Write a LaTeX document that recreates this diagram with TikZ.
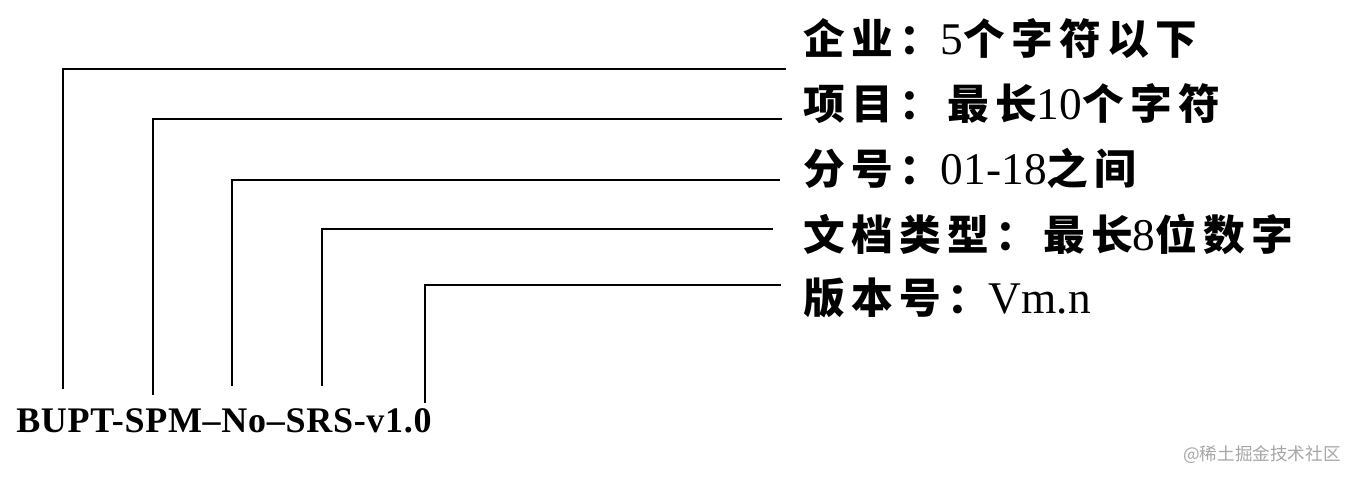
\documentclass[tikz,border=0pt]{standalone}
\usepackage{fontspec}
\setmainfont{Liberation Serif}
\newfontfamily\cjkfont[Scale=0.92,LetterSpace=15]{Noto Sans CJK SC}
\newfontfamily\codefont[LetterSpace=2]{Liberation Serif}
\newfontfamily\wmfont{Noto Sans CJK SC}
\newcommand\C[1]{{\cjkfont\bfseries #1}}
\begin{document}
\begin{tikzpicture}[x=0.75pt,y=-0.75pt,
  conn/.style={line width=1.4pt, line cap=rect},
  lab/.style={anchor=base west, inner sep=0pt, font=\fontsize{34}{40}\selectfont},
  codestyle/.style={anchor=base west, inner sep=0pt, font=\codefont\bfseries\fontsize{27}{32}\selectfont},
  wmstyle/.style={anchor=west, inner sep=0pt, text=black!35, font=\wmfont\fontsize{13.2}{15}\selectfont}]
\useasboundingbox (0,0) rectangle (1359,481);
\node[codestyle] (code) at (16,432) {BUPT-SPM–No–SRS-v1.0};
\node[lab] (l1) at (803,55) {\C{企业：}5\C{个字符以下}};
\node[lab] (l2) at (803,120) {\C{项目：最长}10\C{个字符}};
\node[lab] (l3) at (803,185) {\C{分号：}01-18\C{之间}};
\node[lab] (l4) at (803,250) {\C{文档类型：最长}8\C{位数字}};
\node[lab] (l5) at (803,313) {\C{版本号：}Vm.n};
\node[wmstyle] (wm) at (1183,455) {@稀土掘金技术社区};
\coordinate (b1) at (63,388);  \coordinate (e1) at (785,69);
\coordinate (b2) at (153,394); \coordinate (e2) at (781,119);
\coordinate (b3) at (232,385); \coordinate (e3) at (779,180);
\coordinate (b4) at (322,385); \coordinate (e4) at (772,229);
\coordinate (b5) at (425,402); \coordinate (e5) at (780,285);
\foreach \i in {1,...,5} \draw[conn] (b\i) |- (e\i);
\end{tikzpicture}
\end{document}
